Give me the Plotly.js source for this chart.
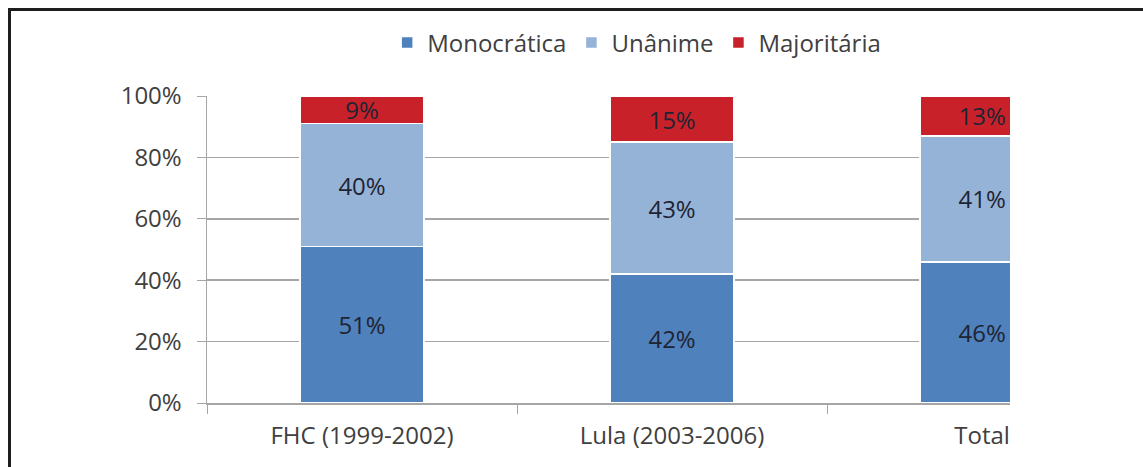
<!DOCTYPE html>
<html>
<head>
<meta charset="utf-8">
<script src="https://cdn.plot.ly/plotly-3.0.1.min.js"></script>
<style>
  html, body { margin: 0; padding: 0; background: #ffffff; }
  #wrap { position: relative; width: 1143px; height: 467px; }
  #chart { position: absolute; left: 0; top: 0; width: 1143px; height: 467px; }
  #frame { position: absolute; left: 8px; top: 8px; right: 0; bottom: 0;
           border-top: 3px solid #1e1e1e; border-left: 3px solid #1e1e1e;
           pointer-events: none; }
</style>
</head>
<body>
<div id="wrap">
  <div id="chart"></div>
  <div id="frame"></div>
</div>
<script>
const categories = ["FHC (1999-2002)", "Lula (2003-2006)", "Total"];
const seriesNames = ["Monocrática", "Unânime", "Majoritária"];
const monocratica = [51, 42, 46];
const unanime = [40, 43, 41];
const majoritaria = [9, 15, 13];
const yTickVals = [0, 20, 40, 60, 80, 100];
const yTickText = ["0%", "20%", "40%", "60%", "80%", "100%"];

const colors = ["#4F81BD", "#95B3D7", "#C9212A"];
const seriesValues = [monocratica, unanime, majoritaria];
const fontFamily = "Open Sans, sans-serif";

const traces = seriesValues.map((vals, i) => ({
  type: "bar",
  name: seriesNames[i],
  x: categories,
  y: vals,
  marker: { color: colors[i], line: { color: "#ffffff", width: 1.5 } },
  texttemplate: "%{y:.0f}%",
  textposition: "inside",
  insidetextanchor: "middle",
  textangle: 0,
  constraintext: "none",
  textfont: { family: fontFamily, size: 24, color: "#1f2433" },
  hoverinfo: "skip"
}));

const layout = {
  width: 1143,
  height: 467,
  margin: { l: 207, r: 133, t: 96, b: 64 },
  paper_bgcolor: "#ffffff",
  plot_bgcolor: "#ffffff",
  barmode: "stack",
  bargap: 0.6,
  font: { family: fontFamily, size: 24, color: "#404040" },
  uniformtext: { minsize: 24, mode: "show" },
  showlegend: true,
  legend: {
    orientation: "h",
    xref: "container", yref: "container",
    x: 0.557, xanchor: "center",
    y: 0.908, yanchor: "middle",
    font: { family: fontFamily, size: 24, color: "#404040" },
    traceorder: "normal",
    itemclick: false
  },
  xaxis: {
    type: "category",
    categoryorder: "array",
    categoryarray: categories,
    range: [-0.5, 2.09],
    tickson: "boundaries",
    ticks: "outside",
    ticklen: 9,
    tickcolor: "#a6a6a6",
    showline: true,
    linecolor: "#a6a6a6",
    linewidth: 1.5,
    showgrid: false,
    layer: "below traces",
    ticklabelstandoff: 11,
    tickfont: { family: fontFamily, size: 24, color: "#404040" },
    fixedrange: true
  },
  yaxis: {
    range: [0, 100],
    tickvals: yTickVals,
    ticktext: yTickText,
    ticks: "outside",
    ticklen: 9,
    tickcolor: "#a6a6a6",
    showline: true,
    linecolor: "#a6a6a6",
    linewidth: 1.5,
    showgrid: true,
    gridcolor: "#a6a6a6",
    gridwidth: 1.5,
    zeroline: false,
    layer: "below traces",
    ticklabelstandoff: 10,
    tickfont: { family: fontFamily, size: 24, color: "#404040" },
    fixedrange: true
  }
};

Plotly.newPlot("chart", traces, layout, { displayModeBar: false, staticPlot: true });
</script>
</body>
</html>
